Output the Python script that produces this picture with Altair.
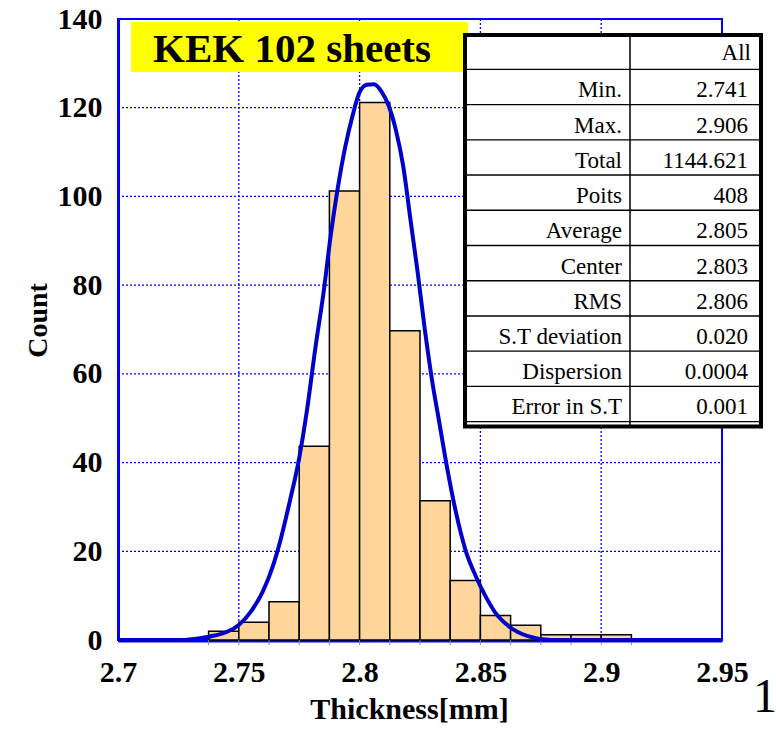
import altair as alt
import pandas as pd

# ---------------- data ----------------
bin_start = [2.7375, 2.75, 2.7625, 2.775, 2.7875, 2.8, 2.8125, 2.825, 2.8375, 2.85, 2.8625, 2.875, 2.8875, 2.9]
bin_end = [2.75, 2.7625, 2.775, 2.7875, 2.8, 2.8125, 2.825, 2.8375, 2.85, 2.8625, 2.875, 2.8875, 2.9, 2.9125]
counts = [2.0, 4.0, 8.6, 43.7, 101.2, 121.2, 69.7, 31.4, 13.4, 5.5, 3.3, 1.2, 1.2, 1.2]

curve_x = [2.700, 2.726, 2.734, 2.740, 2.745, 2.750, 2.755, 2.760, 2.764, 2.767, 2.771, 2.775,
           2.778, 2.782, 2.785, 2.788, 2.791, 2.794, 2.797, 2.800, 2.803, 2.806, 2.809, 2.812,
           2.815, 2.818, 2.821, 2.824, 2.827, 2.830, 2.833, 2.836, 2.840, 2.844, 2.848, 2.852,
           2.856, 2.862, 2.870, 2.879, 2.950]
curve_y = [0, 0, 0.4, 1.0, 1.8, 3.4, 6.4, 11.0, 16.5, 22.0, 31.0, 41.0,
           51.0, 67.0, 78.0, 91.0, 102.0, 111.0, 118.0, 123.5, 125.2, 125.3, 123.7, 120.5,
           115.0, 107.0, 95.0, 83.0, 70.0, 58.5, 49.0, 39.5, 28.5, 20.0, 14.5, 10.0,
           6.3, 3.0, 0.8, 0, 0]

x_ticks = [2.7, 2.75, 2.8, 2.85, 2.9, 2.95]
y_ticks = [0, 20, 40, 60, 80, 100, 120, 140]
grid_x = [2.75, 2.8, 2.85, 2.9]
grid_y = [20, 40, 60, 80, 100, 120]

title_text = "KEK 102 sheets"
table_header = "All"
stat_labels = ["Min.", "Max.", "Total", "Poits", "Average", "Center", "RMS",
               "S.T deviation", "Dispersion", "Error in S.T"]
stat_values = ["2.741", "2.906", "1144.621", "408", "2.805", "2.803", "2.806",
               "0.020", "0.0004", "0.001"]
page_number = "1"

# ---------------- layout ----------------
W, H = 604, 621
X0, Y0 = 118, 19
XMIN, XMAX = 2.7, 2.95
YMIN, YMAX = 0, 140
SERIF = "Liberation Serif"
BLUE = "#0000FF"
CURVE = "#0000CC"


def xd(px):
    return XMIN + (px - X0) / W * (XMAX - XMIN)


def yd(py):
    return YMAX - (py - Y0) / H * (YMAX - YMIN)


xscale = alt.Scale(domain=[XMIN, XMAX], nice=False, zero=False)
yscale = alt.Scale(domain=[YMIN, YMAX], nice=False)

xaxis = alt.Axis(values=x_ticks, format=".2~f", title="Thickness[mm]", grid=False,
                 ticks=False, domainColor=BLUE, domainWidth=4,
                 labelFont=SERIF, labelFontWeight="bold", labelFontSize=30, labelColor="black",
                 labelPadding=17, labelFlush=False,
                 titleFont=SERIF, titleFontWeight="bold", titleFontSize=30, titleColor="black",
                 titlePadding=7, titleX=291)
yaxis = alt.Axis(values=y_ticks, format="d", title="Count", grid=False, ticks=False,
                 domainColor=BLUE, domainWidth=3,
                 labelFont=SERIF, labelFontWeight="bold", labelFontSize=30, labelColor="black",
                 labelPadding=16, labelFlush=False,
                 titleFont=SERIF, titleFontWeight="bold", titleFontSize=28, titleColor="black",
                 titleAngle=270, titleBaseline="alphabetic", titleAlign="center",
                 titleX=-72, titleY=301)


def X(f):
    return alt.X(f, type="quantitative", scale=xscale, axis=xaxis)


def Y(f):
    return alt.Y(f, type="quantitative", scale=yscale, axis=yaxis)


bars_df = pd.DataFrame({"x0": bin_start, "x1": bin_end, "n": counts})
curve_df = pd.DataFrame({"x": curve_x, "y": curve_y})
gx_df = pd.DataFrame({"x": grid_x})
gy_df = pd.DataFrame({"y": grid_y})
edges_df = pd.DataFrame({"x": bin_start + [bin_end[-1]]})

grid_h = alt.Chart(gy_df).mark_rule(color=BLUE, strokeWidth=1.3, strokeDash=[2, 2]).encode(
    y=Y("y"), x=alt.value(0), x2=alt.value(W))
grid_v = alt.Chart(gx_df).mark_rule(color=BLUE, strokeWidth=1.3, strokeDash=[2, 2]).encode(
    x=X("x"), y=alt.value(0), y2=alt.value(H))

bars = alt.Chart(bars_df).mark_rect(fill="#FED69B", stroke="black", strokeWidth=1.5).encode(
    x=X("x0"), x2="x1", y=Y("n"), y2=alt.datum(0))

edge_ticks = alt.Chart(edges_df).mark_rule(color="#888888", strokeWidth=1).encode(
    x=X("x"), y=alt.value(H), y2=alt.value(H + 5))

curve = alt.Chart(curve_df).mark_line(color=CURVE, strokeWidth=4, interpolate="monotone").encode(
    x=X("x"), y=Y("y"))

# title box
box_df = pd.DataFrame({"x0": [xd(131)], "x1": [xd(468)], "y0": [yd(22)], "y1": [yd(72)],
                       "tx": [xd(292)], "ty": [yd(62)], "t": [title_text]})
box = alt.Chart(box_df).mark_rect(fill="#FFFF00").encode(
    x=X("x0"), x2="x1", y=Y("y0"), y2="y1")
box_text = alt.Chart(box_df).mark_text(font=SERIF, fontWeight="bold", fontSize=41,
                                       align="center", baseline="alphabetic", color="black").encode(
    x=X("tx"), y=Y("ty"), text="t:N")

# stats table
TL, TR, TT, TB = 465, 761, 35, 426.5
COL = 630
ROW0 = 69.3
ROWH = 35.24
tab_df = pd.DataFrame({"x0": [xd(TL)], "x1": [xd(TR)], "y0": [yd(TT)], "y1": [yd(TB)]})
tab_box = alt.Chart(tab_df).mark_rect(fill="white", stroke="black", strokeWidth=4).encode(
    x=X("x0"), x2="x1", y=Y("y0"), y2="y1")

hl_df = pd.DataFrame({"y": [yd(ROW0 + ROWH * i) for i in range(len(stat_labels) + 1)]})
hlines = alt.Chart(hl_df).mark_rule(color="black", strokeWidth=1.3).encode(
    y=Y("y"), x=alt.datum(xd(TL)), x2=alt.datum(xd(TR)))
vl_df = pd.DataFrame({"x": [xd(COL)], "y0": [yd(TT)], "y1": [yd(TB)]})
vline = alt.Chart(vl_df).mark_rule(color="black", strokeWidth=1.5).encode(
    x=X("x"), y=Y("y0"), y2="y1")

lab_df = pd.DataFrame({
    "t": stat_labels,
    "x": [xd(622)] * len(stat_labels),
    "y": [yd(97.3 + ROWH * i) for i in range(len(stat_labels))],
})
val_df = pd.DataFrame({
    "t": [table_header] + stat_values,
    "x": [xd(751)] + [xd(748)] * len(stat_values),
    "y": [yd(60)] + [yd(97.3 + ROWH * i) for i in range(len(stat_values))],
})
lab_text = alt.Chart(lab_df).mark_text(font=SERIF, fontSize=23, align="right",
                                       baseline="alphabetic", color="black").encode(
    x=X("x"), y=Y("y"), text="t:N")
val_text = alt.Chart(val_df).mark_text(font=SERIF, fontSize=23, align="right",
                                       baseline="alphabetic", color="black").encode(
    x=X("x"), y=Y("y"), text="t:N")

pn_df = pd.DataFrame({"t": [page_number], "x": [xd(777)], "y": [yd(712)]})
pn_text = alt.Chart(pn_df).mark_text(font=SERIF, fontSize=48, align="right",
                                     baseline="alphabetic", color="black").encode(
    x=X("x"), y=Y("y"), text="t:N")

chart = alt.layer(
    grid_h, grid_v, bars, edge_ticks, curve, box, box_text,
    tab_box, hlines, vline, lab_text, val_text, pn_text
).properties(
    width=W, height=H,
    autosize=alt.AutoSizeParams(type="none"),
    padding={"left": X0, "top": Y0, "right": 776 - X0 - W, "bottom": 731 - Y0 - H},
    background="white",
).configure_view(stroke=BLUE, strokeWidth=2)

chart.save("out.html", embed_options={"renderer": "svg", "actions": False})
